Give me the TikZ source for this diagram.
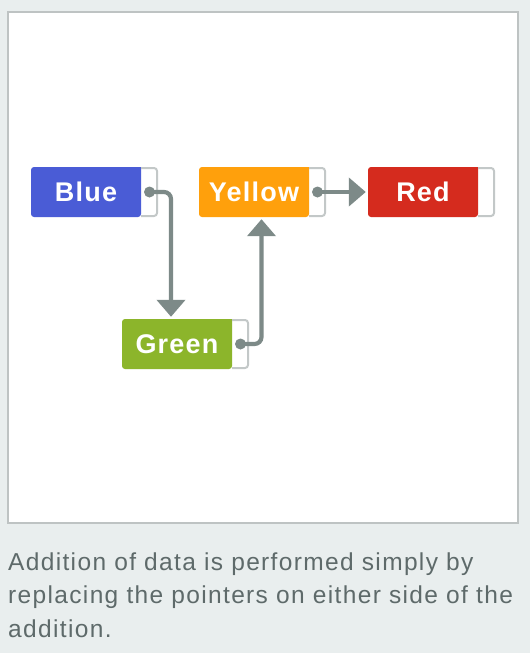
\documentclass[tikz,border=0pt]{standalone}
\usepackage{fontspec}
\setmainfont{Liberation Sans}
\newfontfamily\capfont[LetterSpace=5.5]{Liberation Sans}
\newfontfamily\boxfont[LetterSpace=4.5]{Liberation Sans}
\usetikzlibrary{arrows.meta}
\definecolor{bgc}{HTML}{E9EEEE}
\definecolor{panelborder}{HTML}{BEC3C3}
\definecolor{ptrborder}{HTML}{C3C8C8}
\definecolor{connc}{HTML}{7D8A88}
\definecolor{captc}{HTML}{5E6A6A}
\definecolor{cblue}{HTML}{4A5CD6}
\definecolor{cyellow}{HTML}{FFA00C}
\definecolor{cred}{HTML}{D52B1E}
\definecolor{cgreen}{HTML}{8CB52B}
\tikzset{
  colorpart/.style={minimum width=110pt, minimum height=50pt, inner sep=0pt, text=white, font=\boxfont\fontsize{27}{30}\selectfont\bfseries},
  ptrpart/.style={minimum width=17pt, minimum height=50pt, inner sep=0pt},
  conn/.style={draw=connc, line width=4.2pt, rounded corners=7pt, -{Triangle[width=28pt,length=17pt]}, shorten >=2pt},
  dotc/.style={fill=connc},
  capt/.style={anchor=base west, inner sep=0pt, text=captc, font=\capfont\fontsize{24.5}{34}\selectfont},
}
\newcommand{\listbox}[5]{%
  % #1 name, #2 x, #3 top y, #4 color, #5 text
  \fill[#4, rounded corners=3pt] (#2+110,#3) -- (#2,#3) -- (#2,#3+50) -- (#2+110,#3+50) [sharp corners] -- cycle;
  \draw[ptrborder, line width=2pt, rounded corners=3pt] (#2+110,#3+1) -- (#2+126,#3+1) -- (#2+126,#3+49) -- (#2+110,#3+49);
  \node[colorpart] (#1) at (#2+55,#3+25) {#5};
  \node[ptrpart] (#1p) at (#2+118.5,#3+25) {};
}
\begin{document}
\begin{tikzpicture}[x=1pt,y=-1pt]
\fill[bgc] (0,0) rectangle (530,653);
\useasboundingbox (0,0) rectangle (530,653);
\draw[panelborder, line width=1.5pt, fill=white] (8,12) rectangle (518,523);
\listbox{blue}{31}{167}{cblue}{Blue}
\listbox{yellow}{199}{167}{cyellow}{Yellow}
\listbox{red}{368}{167}{cred}{Red}
\listbox{green}{122}{319}{cgreen}{Green}
\draw[conn] (bluep.center) -| ([xshift=-6pt]green.north);
\draw[conn] (greenp.center) -| ([xshift=7.5pt]yellow.south);
\draw[conn] (yellowp.center) -- (red.west);
\foreach \n in {bluep,greenp,yellowp} \fill[dotc] (\n.center) circle (5.5pt);
\node[capt] (cap1) at (8,570) {Addition of data is performed simply by};
\node[capt] (cap2) at (8,603) {replacing the pointers on either side of the};
\node[capt] (cap3) at (8,637) {addition.};
\end{tikzpicture}
\end{document}
